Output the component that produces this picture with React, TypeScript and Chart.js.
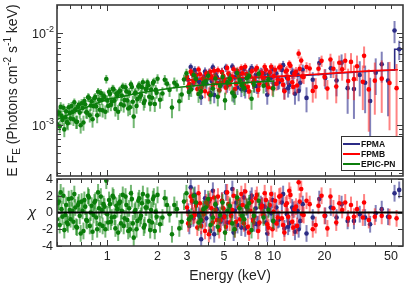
import React, { useEffect, useRef } from "react";
import { Chart, registerables } from "chart.js";

Chart.register(...registerables);

// ---------------- data (fluxes written in units of 1e-3) ----------------
const MILLI = 1e-3;

const pnEnergy = [
  0.5, 0.513, 0.526, 0.539, 0.553, 0.567, 0.581, 0.596, 0.611, 0.627, 0.643, 0.659, 0.676, 0.693, 0.711,
  0.729, 0.748, 0.767, 0.786, 0.806, 0.827, 0.848, 0.87, 0.892, 0.915, 0.938, 0.962, 0.987, 1.012, 1.038,
  1.064, 1.091, 1.119, 1.148, 1.177, 1.207, 1.238, 1.27, 1.302, 1.335, 1.369, 1.404, 1.44, 1.477, 1.515,
  1.553, 1.593, 1.634, 1.675, 1.718, 1.762, 1.807, 1.853, 1.9, 1.95,
  2.0, 2.14, 2.28, 2.44, 2.61, 2.79, 2.98, 3.18, 3.4, 3.64, 3.89, 4.15, 4.44, 4.74, 5.07, 5.42, 5.79, 6.19,
  6.61, 7.07, 7.55, 8.07, 8.63, 9.22, 9.85,
  0.506, 0.519, 0.532, 0.546, 0.56, 0.574, 0.588, 0.603, 0.619, 0.635, 0.651, 0.667, 0.684, 0.702, 0.72,
  0.738, 0.757, 0.776, 0.796, 0.816, 0.837, 0.859, 0.881, 0.903, 0.926, 0.95, 0.974, 0.999, 1.025, 1.051,
  1.077, 1.105, 1.133, 1.162, 1.192, 1.222, 1.254, 1.286, 1.318, 1.352, 1.386, 1.422, 1.458, 1.496, 1.534,
  1.573, 1.613, 1.654, 1.696, 1.74, 1.784, 1.83, 1.876, 1.925, 1.975,
  2.07, 2.21, 2.36, 2.52, 2.7, 2.88, 3.08, 3.29, 3.52, 3.76, 4.02, 4.29, 4.59, 4.9, 5.24, 5.6, 5.99, 6.4,
  6.84, 7.31,
];
const pnFlux = [
  1.03, 1.37, 1.58, 1.14, 0.9, 1.42, 1.05, 1.36, 1.62, 1.16, 1.49, 1.09, 1.67, 1.0, 1.54,
  1.83, 1.38, 2.01, 1.28, 1.82, 1.61, 2.02, 1.28, 1.89, 2.24, 1.45, 2.03, 3.18, 1.62, 2.19,
  1.81, 2.45, 1.5, 2.11, 2.31, 1.69, 2.63, 1.88, 2.33, 1.52, 1.57, 2.6, 1.24, 2.27, 1.92,
  2.72, 2.13, 2.93, 1.84, 2.49, 2.72, 1.71, 1.99, 2.97, 2.42,
  3.2, 2.21, 2.83, 1.56, 2.72, 2.16, 3.66, 2.45, 3.19, 2.33, 3.0, 2.12, 3.22, 2.67, 1.86, 3.2, 2.06, 3.11,
  2.53, 3.44, 2.75, 3.63, 2.69, 3.15, 2.52,
  1.33, 0.97, 1.27, 1.55, 1.21, 1.08, 1.57, 1.18, 1.39, 1.77, 1.09, 1.58, 1.37, 1.73, 1.07,
  1.68, 1.37, 1.99, 1.64, 1.16, 1.96, 1.6, 2.31, 1.47, 1.89, 2.09, 1.4, 1.86, 2.31, 1.67,
  2.49, 1.85, 2.21, 1.4, 2.37, 2.1, 1.64, 2.59, 1.86, 2.26, 2.78, 1.8, 2.21, 1.62, 2.63,
  2.04, 2.58, 1.74, 2.48, 2.92, 2.04, 2.44, 2.87, 1.7, 2.25,
  1.89, 3.12, 2.42, 2.9, 1.82, 3.14, 2.3, 3.51, 2.18, 2.9, 3.44, 2.51, 2.04, 3.34, 2.92, 2.26, 3.7, 2.71,
  3.24, 1.94,
];
const pnFluxErr = [
  0.15, 0.15, 0.2, 0.16, 0.16, 0.17, 0.17, 0.17, 0.17, 0.18, 0.18, 0.18, 0.19, 0.19, 0.19,
  0.2, 0.2, 0.21, 0.21, 0.21, 0.22, 0.22, 0.23, 0.23, 0.23, 0.24, 0.24, 0.34, 0.25, 0.25,
  0.25, 0.26, 0.26, 0.26, 0.26, 0.27, 0.27, 0.27, 0.27, 0.27, 0.28, 0.28, 0.31, 0.28, 0.29,
  0.29, 0.29, 0.3, 0.3, 0.3, 0.3, 0.3, 0.31, 0.31, 0.31,
  0.38, 0.38, 0.39, 0.37, 0.4, 0.4, 0.45, 0.42, 0.42, 0.43, 0.43, 0.43, 0.44, 0.44, 0.4, 0.45, 0.4, 0.46,
  0.46, 0.47, 0.47, 0.48, 0.48, 0.49, 0.5,
  0.15, 0.15, 0.16, 0.16, 0.16, 0.17, 0.17, 0.17, 0.18, 0.18, 0.18, 0.18, 0.19, 0.19, 0.2,
  0.2, 0.2, 0.21, 0.21, 0.22, 0.22, 0.22, 0.23, 0.23, 0.24, 0.24, 0.24, 0.25, 0.25, 0.25,
  0.26, 0.26, 0.26, 0.26, 0.26, 0.27, 0.27, 0.27, 0.27, 0.28, 0.28, 0.28, 0.28, 0.29, 0.29,
  0.29, 0.29, 0.3, 0.3, 0.3, 0.3, 0.31, 0.31, 0.31, 0.31,
  0.38, 0.39, 0.39, 0.4, 0.4, 0.41, 0.42, 0.42, 0.43, 0.43, 0.43, 0.44, 0.44, 0.44, 0.45, 0.45, 0.46, 0.46,
  0.47, 0.47,
];
const pnChi = [
  -0.8, 1.3, 2.4, -0.5, -2.1, 0.9, -1.4, 0.3, 1.7, -1.1, 0.6, -1.8, 1.2, -2.5, 0.2,
  1.5, -0.9, 2.0, -1.6, 0.8, -0.3, 1.4, -2.0, 0.5, 1.9, -1.6, 0.7, 3.8, -1.2, 1.0,
  -0.6, 1.8, -1.9, 0.4, 1.1, -1.3, 2.1, -0.7, 0.9, -2.2, -2.0, 1.6, -3.0, 0.3, -1.0,
  1.7, -0.4, 2.2, -1.5, 0.6, 1.3, -2.1, -1.2, 1.9, 0.1,
  2.1, -0.6, 0.9, -2.6, 0.4, -1.1, 2.3, -0.5, 1.2, -0.9, 0.6, -1.5, 1.0, -0.3, -2.4, 0.8, -2.0, 0.5,
  -0.8, 1.1, -0.4, 1.4, -0.6, 0.3, -1.0,
  1.1, -1.5, 0.4, 2.0, -0.3, -1.2, 1.6, -0.8, 0.2, 2.2, -1.7, 0.9, -0.4, 1.3, -2.2,
  0.7, -1.0, 1.8, 0.0, -2.3, 1.2, -0.6, 2.4, -1.4, 0.3, 1.0, -2.0, -0.2, 1.5, -1.1,
  2.0, -0.5, 0.8, -2.4, 1.3, 0.2, -1.6, 1.9, -0.9, 0.5, 2.3, -1.3, 0.1, -2.0, 1.4,
  -0.7, 1.1, -1.8, 0.6, 2.0, -1.0, 0.3, 1.6, -2.2, -0.5,
  -1.4, 1.7, -0.2, 0.9, -1.9, 1.3, -0.8, 2.0, -1.2, 0.4, 1.6, -0.6, -1.7, 1.2, 0.2, -1.3, 1.8, -0.4,
  0.7, -2.1,
];

const fpmbEnergy = [
  3.0, 3.11, 3.22, 3.34, 3.46, 3.59, 3.72, 3.85, 3.99, 4.14, 4.29, 4.44, 4.6, 4.77, 4.95,
  5.13, 5.31, 5.51, 5.71, 5.91, 6.13, 6.35, 6.58, 6.82, 7.07, 7.33, 7.6, 7.87, 8.16, 8.46,
  8.76, 9.08, 9.41, 9.75, 10.1, 10.5, 10.9, 11.3, 11.7, 12.1, 12.5, 13.0, 13.5, 14.0, 14.5,
  15.0, 16.3, 17.7, 19.2, 20.8, 22.6, 24.5, 26.6, 28.8, 31.3, 33.9, 36.8, 40.0, 44.0, 49.0, 54.0,
  3.05, 3.16, 3.28, 3.4, 3.52, 3.65, 3.78, 3.92, 4.06, 4.21, 4.36, 4.52, 4.68, 4.86, 5.04,
  5.22, 5.41, 5.61, 5.81, 6.02, 6.24, 6.46, 6.7, 6.94, 7.2, 7.46, 7.73, 8.01, 8.31, 8.61,
  8.92, 9.24, 9.58, 9.92, 10.3, 10.7, 11.1, 11.5, 11.9, 12.3, 12.8, 13.2, 13.7, 14.2, 14.7,
  15.6, 17.0, 18.4, 20.0, 21.7, 23.5, 25.5, 27.7, 30.0, 34.5,
];
const fpmbFlux = [
  3.34, 2.8, 3.66, 3.04, 2.48, 3.58, 3.22, 2.34, 3.49, 3.81, 2.74, 3.32, 3.96, 2.88, 3.44,
  2.56, 3.64, 3.1, 4.06, 2.83, 3.52, 4.19, 2.77, 3.59, 2.33, 3.85, 3.11, 4.19, 2.84, 3.69,
  4.33, 2.76, 3.75, 2.52, 4.01, 3.14, 4.31, 2.75, 3.84, 3.21, 4.44, 2.61, 3.81, 6.0, 5.04,
  3.35, 4.14, 2.6, 5.01, 2.5, 4.11, 4.77, 5.02, 4.88, 4.37, 2.96, 2.45, 3.05, 3.21, 2.88, 2.53,
  2.64, 3.83, 2.99, 3.45, 4.03, 2.56, 3.1, 3.65, 2.2, 3.4, 3.91, 2.86, 2.4, 3.78, 3.04,
  4.2, 2.77, 3.38, 2.46, 3.91, 2.95, 3.66, 4.32, 2.6, 3.39, 2.9, 4.03, 2.41, 3.59, 3.22,
  4.01, 2.59, 4.32, 3.42, 2.82, 4.24, 3.09, 2.34, 3.94, 4.64, 2.93, 3.65, 2.7, 4.1, 3.39,
  4.29, 2.36, 4.11, 3.35, 5.19, 2.63, 4.05, 3.02, 3.17, 5.68,
];
const fpmbFluxErr = [
  0.36, 0.37, 0.37, 0.37, 0.38, 0.37, 0.38, 0.38, 0.38, 0.38, 0.39, 0.38, 0.39, 0.39, 0.39,
  0.4, 0.39, 0.4, 0.4, 0.4, 0.4, 0.41, 0.4, 0.41, 0.41, 0.41, 0.42, 0.41, 0.42, 0.42,
  0.42, 0.43, 0.42, 0.43, 0.44, 0.44, 0.45, 0.45, 0.46, 0.46, 0.47, 0.47, 0.48, 0.7, 0.55,
  0.55, 0.6, 0.65, 0.7, 0.6, 0.85, 0.95, 1.05, 1.2, 1.35, 1.5, 1.6, 1.75, 1.85, 2.0, 2.1,
  0.37, 0.37, 0.37, 0.37, 0.38, 0.38, 0.38, 0.38, 0.38, 0.39, 0.39, 0.39, 0.39, 0.39, 0.4,
  0.4, 0.4, 0.4, 0.4, 0.4, 0.41, 0.41, 0.41, 0.41, 0.41, 0.42, 0.42, 0.42, 0.42, 0.42,
  0.43, 0.43, 0.43, 0.43, 0.44, 0.44, 0.45, 0.45, 0.46, 0.46, 0.47, 0.47, 0.48, 0.48, 0.49,
  0.55, 0.6, 0.65, 0.7, 0.8, 0.9, 1.0, 1.1, 1.3, 1.5,
];
const fpmbChi = [
  0.6, -0.9, 1.4, -0.3, -1.8, 1.1, 0.1, -2.2, 0.8, 1.6, -1.2, 0.3, 1.9, -0.9, 0.5,
  -1.7, 1.0, -0.4, 2.0, -1.1, 0.6, 2.2, -1.3, 0.7, -2.4, 1.3, -0.5, 2.1, -1.2, 0.8,
  2.3, -1.4, 0.9, -2.0, 1.4, -0.6, 2.0, -1.5, 0.9, -0.5, 2.1, -1.8, 0.7, 3.6, 2.8,
  -0.3, 1.0, -1.5, 2.0, -1.9, 0.5, 1.1, 1.2, 0.9, 0.4, -0.6, -0.9, -0.5, -0.4, -0.55, -0.7,
  -1.3, 1.9, -0.4, 0.8, 2.3, -1.6, -0.2, 1.2, -2.6, 0.5, 1.8, -0.9, -2.1, 1.4, -0.5,
  2.4, -1.2, 0.3, -2.0, 1.6, -0.8, 0.9, 2.5, -1.7, 0.2, -1.0, 1.7, -2.2, 0.6, -0.3,
  1.5, -1.8, 2.2, 0.1, -1.3, 1.9, -0.7, -2.4, 1.1, 2.6, -1.1, 0.4, -1.6, 1.3, -0.2,
  1.4, -2.0, 0.8, -0.4, 1.9, -1.2, 0.3, -0.7, -0.5, 1.2,
];

const fpmaEnergy = [
  3.05, 3.16, 3.28, 3.4, 3.52, 3.65, 3.79, 3.92, 4.07, 4.22, 4.37, 4.53, 4.69, 4.86, 5.04,
  5.22, 5.41, 5.61, 5.81, 6.02, 6.24, 6.47, 6.7, 6.95, 7.2, 7.47, 7.74, 8.02, 8.31, 8.61,
  8.93, 9.25, 9.59, 9.94, 10.3, 10.7, 11.1, 11.5, 11.9, 12.3, 12.8, 13.3, 13.8, 14.3, 14.8,
  15.6, 17.0, 18.6, 20.2, 21.8, 23.6, 25.3, 27.5, 30.0, 32.5, 35.0, 37.5, 40.5, 44.0, 48.0, 52.5, 56.0,
  3.1, 3.34, 3.58, 3.85, 4.14, 4.45, 4.77, 5.13, 5.51, 5.91, 6.35, 6.82, 7.33, 7.87, 8.46,
  9.08, 9.75, 10.5, 11.3, 12.1, 13.0, 14.0, 3.22, 3.72, 4.29, 4.95, 5.71, 6.58, 7.6, 8.76,
];
const fpmaFlux = [
  3.12, 4.29, 2.82, 3.56, 3.0, 2.01, 3.35, 2.85, 3.7, 3.03, 2.13, 3.34, 2.89, 3.79, 3.03,
  2.68, 3.47, 4.34, 3.31, 2.57, 3.59, 3.07, 2.4, 3.4, 3.99, 2.92, 3.51, 2.65, 3.76, 3.13,
  2.76, 3.56, 3.28, 2.81, 3.65, 2.96, 3.98, 2.41, 3.29, 2.72, 3.73, 2.2, 3.54, 2.9, 4.01,
  1.98, 3.12, 4.75, 3.27, 4.16, 3.06, 4.79, 2.53, 2.47, 3.51, 2.9, 1.83, 3.73, 4.6, 3.05, 10.7, 6.7,
  2.45, 3.97, 2.92, 3.84, 2.24, 3.55, 2.72, 4.23, 3.09, 3.76, 2.46, 3.53, 4.18, 2.65, 3.68,
  2.14, 4.06, 2.91, 4.5, 2.52, 3.58, 2.36, 3.62, 2.73, 4.26, 2.94, 2.19, 4.06, 2.69, 3.63,
];
const fpmaFluxErr = [
  0.4, 0.4, 0.4, 0.41, 0.41, 0.35, 0.41, 0.41, 0.42, 0.42, 0.4, 0.42, 0.42, 0.43, 0.43,
  0.43, 0.43, 0.4, 0.44, 0.44, 0.44, 0.44, 0.45, 0.45, 0.45, 0.45, 0.46, 0.46, 0.46, 0.46,
  0.47, 0.47, 0.47, 0.48, 0.5, 0.5, 0.51, 0.51, 0.52, 0.52, 0.53, 0.53, 0.54, 0.54, 0.55,
  0.6, 0.65, 0.75, 0.8, 0.9, 1.0, 1.1, 1.2, 1.3, 1.45, 1.55, 1.45, 1.6, 1.7, 1.8, 2.9, 1.6,
  0.4, 0.41, 0.41, 0.41, 0.42, 0.42, 0.43, 0.43, 0.43, 0.44, 0.44, 0.45, 0.45, 0.46, 0.46,
  0.47, 0.48, 0.5, 0.51, 0.52, 0.53, 0.54, 0.4, 0.41, 0.42, 0.43, 0.43, 0.45, 0.45, 0.46,
];
const fpmaChi = [
  0.1, 3.0, -0.7, 1.1, -0.3, -3.2, 0.5, -0.7, 1.3, -0.3, -2.6, 0.4, -0.7, 1.4, -0.4,
  -1.2, 0.6, 2.8, 0.2, -1.5, 0.8, -0.4, -1.9, 0.3, 1.6, -0.8, 0.5, -1.4, 1.0, -0.4,
  -1.2, 0.5, -0.1, -1.1, 0.6, -0.8, 1.2, -1.9, -0.2, -1.3, 0.6, -2.3, 0.2, -1.0, 1.0,
  -2.5, -0.6, 1.6, -0.4, 0.6, -0.6, 1.0, -1.0, -1.0, -0.2, -0.6, -1.4, -0.1, 0.4, -0.5, 2.3, 2.7,
  -1.6, 2.1, -0.5, 1.7, -2.2, 0.9, -1.1, 2.4, -0.3, 1.2, -1.8, 0.6, 2.0, -1.4, 0.8,
  -2.5, 1.5, -0.9, 2.2, -1.7, 0.3, -2.0, 1.3, -1.0, 2.6, -0.6, -2.4, 1.8, -1.3, 0.7,
];

const pnModelEnergy = [0.5, 0.55, 0.6, 0.7, 0.8, 0.9, 1.0, 1.2, 1.4, 1.6, 1.8, 2.0, 2.5, 3.0, 4.0, 5.0, 6.0, 8.0, 10.0];
const pnModelFlux = [1.15, 1.24, 1.32, 1.49, 1.64, 1.78, 1.91, 2.03, 2.16, 2.26, 2.34, 2.4, 2.55, 2.64, 2.76, 2.82, 2.87, 2.96, 3.03];
const fpmbModelEnergy = [3, 4, 5, 6, 8, 10, 12, 15, 20, 25, 30, 40, 50, 55];
const fpmbModelFlux = [3.12, 3.19, 3.24, 3.28, 3.34, 3.39, 3.44, 3.51, 3.63, 3.73, 3.81, 3.92, 3.99, 4.01];
const fpmaModelEnergy = [3, 4, 5, 6, 8, 10, 12, 15, 20, 25, 30, 40, 50, 52.6, 52.6, 59];
const fpmaModelFlux = [3.08, 3.15, 3.2, 3.23, 3.29, 3.34, 3.4, 3.47, 3.59, 3.69, 3.77, 3.89, 3.96, 3.97, 6.7, 6.7];

const seriesNames = ["FPMA", "FPMB", "EPIC-PN"];
const xTickLabels = [1, 2, 3, 5, 8, 10, 20, 50];
const xMajorTicks = [1, 10];
const xMinorTicks = [0.5, 0.6, 0.7, 0.8, 0.9, 2, 3, 4, 5, 6, 7, 8, 9, 20, 30, 40, 50];
const fluxTickExponents = [-3, -2];
const fluxMinorTicks = [3e-4, 4e-4, 5e-4, 6e-4, 7e-4, 8e-4, 9e-4, 2e-3, 3e-3, 4e-3, 5e-3, 6e-3, 7e-3, 8e-3, 9e-3];
const chiTickLabels = [-4, -2, 0, 2, 4];
const chiZero = 0;

// ---------------- style / layout ----------------
const W = 407;
const H = 285;
const PLOT_LEFT = 57;
const PLOT_RIGHT = 405;
const TOP_TOP = 5;
const TOP_BOTTOM = 176;
const BOT_TOP = 179;
const BOT_BOTTOM = 246;
const X_MIN = 0.5;
const X_MAX = 59;
const FLUX_MIN = 2.8e-4;
const FLUX_MAX = 0.0203;
const CHI_MIN = -4;
const CHI_MAX = 4;

const FONT = '"Liberation Sans", Arial, Helvetica, sans-serif';
const AXIS = "#3a3a3a";
const C_PN = "#0b7d0b";
const C_B = "#ff0000";
const C_A = "#2b2b85";
const E_PN = "rgba(20,135,20,0.6)";
const E_B = "rgba(255,30,30,0.55)";
const E_A = "rgba(45,45,140,0.6)";

const pts = (xs: number[], ys: number[], k = 1) => xs.map((x, i) => ({ x, y: ys[i] * k }));

const errorBars = {
  id: "errorBars",
  beforeDatasetDraw(chart: any, args: any) {
    const ds = chart.data.datasets[args.index];
    if (!ds.errs) return;
    const ctx = chart.ctx;
    const xs = chart.scales.x;
    const ys = chart.scales.y;
    const a = chart.chartArea;
    ctx.save();
    ctx.beginPath();
    ctx.rect(a.left, a.top, a.right - a.left, a.bottom - a.top);
    ctx.clip();
    ctx.strokeStyle = ds.errColor;
    ctx.lineWidth = 2;
    ds.data.forEach((p: any, i: number) => {
      const e = ds.errs[i];
      const x = xs.getPixelForValue(p.x);
      const lo = Math.max(p.y - e, ys.min);
      ctx.beginPath();
      ctx.moveTo(x, ys.getPixelForValue(lo));
      ctx.lineTo(x, ys.getPixelForValue(p.y + e));
      ctx.stroke();
    });
    ctx.restore();
  },
};

function line(ctx: CanvasRenderingContext2D, x1: number, y1: number, x2: number, y2: number) {
  ctx.beginPath();
  ctx.moveTo(x1, y1);
  ctx.lineTo(x2, y2);
  ctx.stroke();
}

function frameAndXTicks(chart: any) {
  const ctx = chart.ctx as CanvasRenderingContext2D;
  const a = chart.chartArea;
  const xs = chart.scales.x;
  ctx.strokeStyle = AXIS;
  ctx.lineWidth = 1;
  const tick = (v: number, len: number) => {
    const px = Math.round(xs.getPixelForValue(v)) + 0.5;
    line(ctx, px, a.top, px, a.top + len);
    line(ctx, px, a.bottom, px, a.bottom - len);
  };
  xMajorTicks.forEach((v) => tick(v, 6));
  xMinorTicks.forEach((v) => tick(v, 4));
  ctx.lineWidth = 1.6;
  ctx.strokeRect(a.left, a.top, a.right - a.left, a.bottom - a.top);
}

type Part = { t: string; s: number; dy: number; b?: boolean };
function richWidth(ctx: CanvasRenderingContext2D, parts: Part[]) {
  let w = 0;
  parts.forEach((p) => {
    ctx.font = `${p.b ? "bold " : ""}${p.s}px ${FONT}`;
    w += ctx.measureText(p.t).width;
  });
  return w;
}
function drawRich(ctx: CanvasRenderingContext2D, parts: Part[], x: number, y: number) {
  let cx = x;
  parts.forEach((p) => {
    ctx.font = `${p.b ? "bold " : ""}${p.s}px ${FONT}`;
    ctx.fillText(p.t, cx, y + p.dy);
    cx += ctx.measureText(p.t).width;
  });
}

const topAxes = {
  id: "topAxes",
  afterDraw(chart: any) {
    const ctx = chart.ctx as CanvasRenderingContext2D;
    const a = chart.chartArea;
    const ys = chart.scales.y;
    ctx.save();
    frameAndXTicks(chart);
    ctx.lineWidth = 1;
    fluxTickExponents.forEach((e) => {
      const py = Math.round(ys.getPixelForValue(Math.pow(10, e))) + 0.5;
      line(ctx, a.left, py, a.left + 6, py);
      line(ctx, a.right, py, a.right - 6, py);
    });
    fluxMinorTicks.forEach((v) => {
      const py = Math.round(ys.getPixelForValue(v)) + 0.5;
      line(ctx, a.left, py, a.left + 4, py);
      line(ctx, a.right, py, a.right - 4, py);
    });
    ctx.fillStyle = "#222";
    ctx.textBaseline = "alphabetic";
    ctx.textAlign = "left";
    fluxTickExponents.forEach((e) => {
      const py = ys.getPixelForValue(Math.pow(10, e));
      const parts: Part[] = [
        { t: "10", s: 12.5, dy: 4.5 },
        { t: String(e), s: 9, dy: -1.5 },
      ];
      const w = richWidth(ctx, parts);
      drawRich(ctx, parts, 54 - w, py);
    });
    const title: Part[] = [
      { t: "E F", s: 14, dy: 0 },
      { t: "E", s: 10, dy: 3 },
      { t: " (Photons cm", s: 14, dy: 0 },
      { t: "-2", s: 10, dy: -5.5 },
      { t: " s", s: 14, dy: 0 },
      { t: "-1", s: 10, dy: -5.5 },
      { t: " keV)", s: 14, dy: 0 },
    ];
    ctx.save();
    ctx.translate(16.5, (a.top + a.bottom) / 2);
    ctx.rotate(-Math.PI / 2);
    const tw = richWidth(ctx, title);
    drawRich(ctx, title, -tw / 2, 0);
    ctx.restore();
    // legend
    const lx = 341, ly = 136, lw = 61, lh = 34;
    ctx.fillStyle = "#fff";
    ctx.fillRect(lx, ly, lw, lh);
    ctx.strokeStyle = "#333";
    ctx.lineWidth = 1;
    ctx.strokeRect(lx + 0.5, ly + 0.5, lw, lh);
    const cols = [C_A, C_B, C_PN];
    seriesNames.forEach((n, i) => {
      const y = ly + 8 + i * 10;
      ctx.strokeStyle = cols[i];
      ctx.lineWidth = 2;
      line(ctx, lx + 2, y, lx + 19, y);
      ctx.fillStyle = "#111";
      ctx.font = `bold 8.5px ${FONT}`;
      ctx.textBaseline = "middle";
      ctx.fillText(n, lx + 20, y + 0.5);
    });
    ctx.restore();
  },
};

const bottomAxes = {
  id: "bottomAxes",
  afterDraw(chart: any) {
    const ctx = chart.ctx as CanvasRenderingContext2D;
    const a = chart.chartArea;
    const xs = chart.scales.x;
    const ys = chart.scales.y;
    ctx.save();
    frameAndXTicks(chart);
    ctx.lineWidth = 1;
    chiTickLabels.forEach((v) => {
      const py = Math.round(ys.getPixelForValue(v)) + 0.5;
      line(ctx, a.left, py, a.left + 5, py);
      line(ctx, a.right, py, a.right - 5, py);
    });
    ctx.fillStyle = "#222";
    ctx.font = `12.5px ${FONT}`;
    ctx.textAlign = "right";
    ctx.textBaseline = "middle";
    chiTickLabels.forEach((v) => {
      ctx.fillText(String(v), 53, ys.getPixelForValue(v) + 0.5);
    });
    ctx.textAlign = "center";
    xTickLabels.forEach((v) => {
      ctx.fillText(String(v), xs.getPixelForValue(v), 257);
    });
    ctx.font = `14px ${FONT}`;
    ctx.fillText("Energy (keV)", (a.left + a.right) / 2, 276);
    ctx.font = `italic 15px ${FONT}`;
    ctx.fillText("\u03c7", 32, (a.top + a.bottom) / 2);
    ctx.restore();
  },
};

function baseOptions(padTop: number, padBottom: number, yType: string, yMin: number, yMax: number) {
  return {
    responsive: false,
    animation: false as const,
    events: [] as any[],
    layout: { padding: { left: PLOT_LEFT, right: W - PLOT_RIGHT, top: padTop, bottom: padBottom } },
    scales: {
      x: { type: "logarithmic" as const, min: X_MIN, max: X_MAX, display: false },
      y: { type: yType as any, min: yMin, max: yMax, display: false },
    },
    plugins: { legend: { display: false }, tooltip: { enabled: false } },
  };
}

function dataSet(xs: number[], ys: number[], errs: number[], k: number, color: string, errColor: string, label: string) {
  return {
    label,
    data: pts(xs, ys, k),
    errs: errs.map((e) => e * k),
    errColor,
    showLine: false,
    pointRadius: 2.3,
    pointBackgroundColor: color,
    pointBorderWidth: 0,
    backgroundColor: color,
    borderColor: color,
  } as any;
}
function modelSet(xs: number[], ys: number[], k: number, color: string, label: string) {
  return {
    label,
    data: pts(xs, ys, k),
    showLine: true,
    borderColor: color,
    borderWidth: 1.6,
    pointRadius: 0,
    tension: 0,
  } as any;
}

export default function App() {
  const topRef = useRef<HTMLCanvasElement>(null);
  const botRef = useRef<HTMLCanvasElement>(null);

  useEffect(() => {
    const top = new Chart(topRef.current!, {
      type: "scatter",
      data: {
        datasets: [
          modelSet(pnModelEnergy, pnModelFlux, MILLI, C_PN, "EPIC-PN model"),
          dataSet(pnEnergy, pnFlux, pnFluxErr, MILLI, C_PN, E_PN, seriesNames[2]),
          modelSet(fpmbModelEnergy, fpmbModelFlux, MILLI, C_B, "FPMB model"),
          dataSet(fpmbEnergy, fpmbFlux, fpmbFluxErr, MILLI, C_B, E_B, seriesNames[1]),
          modelSet(fpmaModelEnergy, fpmaModelFlux, MILLI, C_A, "FPMA model"),
          dataSet(fpmaEnergy, fpmaFlux, fpmaFluxErr, MILLI, C_A, E_A, seriesNames[0]),
        ],
      },
      options: baseOptions(TOP_TOP, H - TOP_BOTTOM, "logarithmic", FLUX_MIN, FLUX_MAX) as any,
      plugins: [errorBars, topAxes],
    });
    const ones = (n: number) => new Array(n).fill(1);
    const bot = new Chart(botRef.current!, {
      type: "scatter",
      data: {
        datasets: [
          {
            label: "zero",
            data: [
              { x: X_MIN, y: chiZero },
              { x: X_MAX, y: chiZero },
            ],
            showLine: true,
            borderColor: "#000",
            borderWidth: 2,
            pointRadius: 0,
          } as any,
          dataSet(pnEnergy, pnChi, ones(pnChi.length), 1, C_PN, E_PN, seriesNames[2]),
          dataSet(fpmbEnergy, fpmbChi, ones(fpmbChi.length), 1, C_B, E_B, seriesNames[1]),
          dataSet(fpmaEnergy, fpmaChi, ones(fpmaChi.length), 1, C_A, E_A, seriesNames[0]),
        ],
      },
      options: baseOptions(BOT_TOP, H - BOT_BOTTOM, "linear", CHI_MIN, CHI_MAX) as any,
      plugins: [errorBars, bottomAxes],
    });
    return () => {
      top.destroy();
      bot.destroy();
    };
  }, []);

  return (
    <div style={{ position: "fixed", left: 0, top: 0, width: W, height: H, background: "#fff" }}>
      <canvas ref={topRef} width={W} height={H} style={{ position: "absolute", left: 0, top: 0 }} />
      <canvas ref={botRef} width={W} height={H} style={{ position: "absolute", left: 0, top: 0 }} />
    </div>
  );
}
